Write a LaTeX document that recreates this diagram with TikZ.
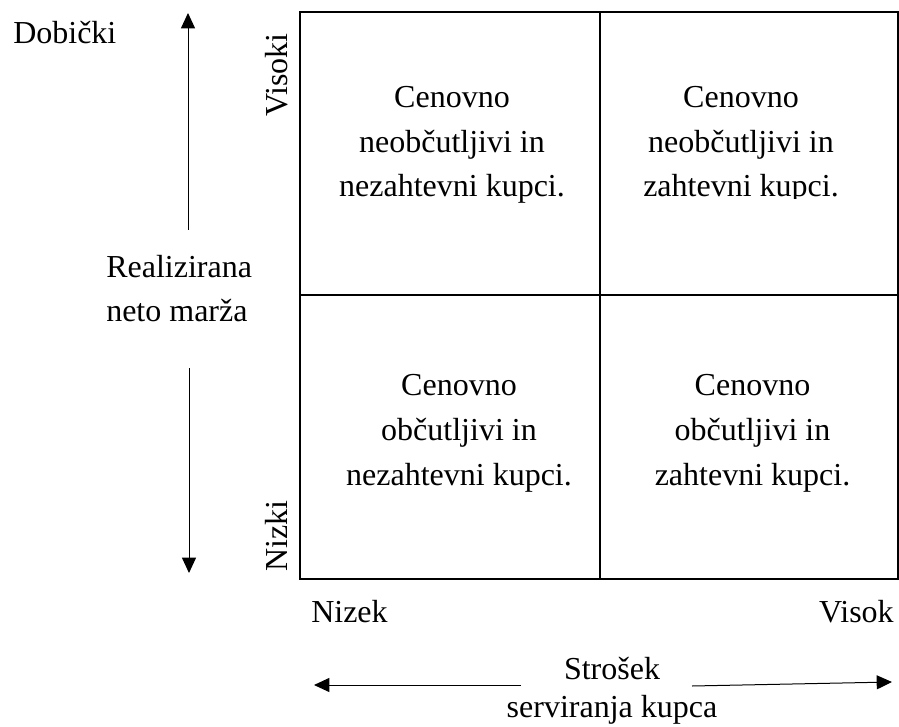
\documentclass[tikz,border=0pt]{standalone}
\usepackage{fontspec}
\setmainfont{Liberation Serif}
\usetikzlibrary{arrows.meta}
\begin{document}
\begin{tikzpicture}[x=0.75pt,y=-0.75pt,
  lbl/.style={inner sep=0pt,font=\fontsize{24}{33.4}\selectfont},
  quad/.style={lbl,align=center,anchor=base},
  axarrow/.style={line width=0.75pt,-{Triangle[length=11.5pt,width=10.5pt]}},
  frame/.style={line width=1.5pt},
  divider/.style={line width=1pt}]
\useasboundingbox (0,0) rectangle (899,727);
% grid
\draw[frame] (300,12) rectangle (897.5,579);
\draw[divider] (600,12) -- (600,579);
\draw[divider] (300,295) -- (897.5,295);
% quadrant texts (base anchor = baseline of the last line)
\node[quad] (tl) at (452,197) {Cenovno\\neobčutljivi in\\nezahtevni kupci.};
\begin{scope}
\clip (601,13) rectangle (896,198.5);
\node[quad] (tr) at (741,197) {Cenovno\\neobčutljivi in\\zahtevni kupci.};
\end{scope}
\node[quad] (bl) at (459,485) {Cenovno\\občutljivi in\\nezahtevni kupci.};
\node[quad] (br) at (752.5,485) {Cenovno\\občutljivi in\\zahtevni kupci.};
% vertical axis
\node[lbl,anchor=base west] (dob) at (13,44) {Dobički};
\node[lbl,anchor=base west,rotate=90] (vis) at (287.5,117) {Visoki};
\node[lbl,anchor=base west,rotate=90] (niz) at (287.5,572) {Nizki};
\node[lbl,anchor=base west,align=left,font=\fontsize{24}{33}\selectfont] (rnm) at (106,321) {Realizirana\\neto marža};
\coordinate (ua) at (188,230);
\coordinate (ub) at (188,13);
\coordinate (la) at (189,368);
\coordinate (lb) at (189,573);
\draw[axarrow] (ua) -- (ub);
\draw[axarrow] (la) -- (lb);
% horizontal axis
\node[lbl,anchor=base west] (nizek) at (311,622) {Nizek};
\node[lbl,anchor=base east] (visok) at (894,622) {Visok};
\node[lbl,align=center,anchor=base,font=\fontsize{24}{28.5}\selectfont] (str) at (612,717) {Strošek\\serviranja kupca};
\coordinate (ha) at (521,685);
\coordinate (hb) at (314,685);
\coordinate (hc) at (692,686);
\coordinate (hd) at (892,682);
\draw[axarrow] (ha) -- (hb);
\draw[axarrow] (hc) -- (hd);
\end{tikzpicture}
\end{document}
